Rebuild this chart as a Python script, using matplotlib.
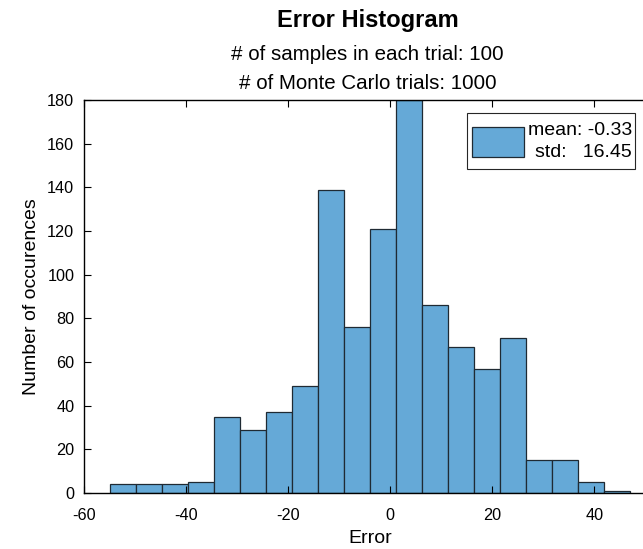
import numpy as np
import matplotlib
matplotlib.use("Agg")
import matplotlib.pyplot as plt
from matplotlib.patches import Patch, Rectangle

plt.rcParams['font.family'] = ['Liberation Sans', 'DejaVu Sans']
plt.rcParams['axes.unicode_minus'] = False

# Histogram of errors: 20 equal bins spanning the data range
counts = [4, 4, 4, 5, 35, 29, 37, 49, 139, 76, 121, 180, 86, 67, 57, 71, 15, 15, 5, 1]
data_min, data_max = -54.9, 47.0
err_mean, err_std = -0.33, 16.45
n_samples, n_trials = 100, 1000

xticks = [-60, -40, -20, 0, 20, 40]
yticks = list(range(0, 181, 20))

edges = np.linspace(data_min, data_max, len(counts) + 1)

W, H = 643, 549
fig = plt.figure(figsize=(W / 100, H / 100), dpi=100)
left, right, bottom, top = 84, 645.4, 493, 100
ax = fig.add_axes([left / W, 1 - bottom / H, (right - left) / W, (bottom - top) / H])

face = '#65a9d7'
edge = '#1f2a33'
ax.bar(edges[:-1], counts, width=np.diff(edges), align='edge',
       facecolor=face, edgecolor=edge, linewidth=0.9)

ax.set_xlim(-60, 50)
ax.set_ylim(0, 180)
ax.set_xticks(xticks)
ax.set_yticks(yticks)
ax.tick_params(direction='in', length=5, width=0.8, labelsize=11.7,
               colors='#000000', top=True, right=False)
ax.tick_params(axis='x', pad=11)
ax.tick_params(axis='y', pad=7)
for s in ax.spines.values():
    s.set_linewidth(1.0)
    s.set_color('#000000')

ax.set_xlabel('Error', fontsize=14)
ax.set_ylabel('Number of occurences', fontsize=14)
ax.xaxis.set_label_coords(0.5 + (370 - 364.7) / (right - left), -(530 - 493) / (bottom - top))
ax.yaxis.set_label_coords(-(84 - 40) / (right - left), 0.5)

# titles
cx = 367.5 / W
fig.text(cx, 1 - 20 / H, 'Error Histogram', ha='center', va='center',
         fontsize=17, fontweight='bold')
fig.text(cx, 1 - 54 / H, f'# of samples in each trial: {n_samples}', ha='center',
         va='center', fontsize=14.8)
fig.text(cx, 1 - 84 / H, f'# of Monte Carlo trials: {n_trials}', ha='center',
         va='center', fontsize=14.8)

# legend box (MATLAB-style, taller padding than wide)
frame = Rectangle((467 / W, 1 - 169 / H), (635.3 - 467) / W, (169 - 112.7) / H,
                  transform=fig.transFigure, facecolor='white', edgecolor='#262626',
                  linewidth=0.8, zorder=4)
ax.add_artist(frame)
frame.set_clip_on(False)

label = f'mean: {err_mean:.2f}\nstd:   {err_std:.2f}'
leg = ax.legend([Patch(facecolor=face, edgecolor=edge, linewidth=0.9)], [label],
                loc='center right', bbox_to_anchor=(632 / W, 1 - 141.5 / H),
                bbox_transform=fig.transFigure, fontsize=14, frameon=False,
                handlelength=2.68, handleheight=2.0, handletextpad=0.2,
                borderpad=0, borderaxespad=0)
leg.set_zorder(5)
for t in leg.get_texts():
    t.set_multialignment('right')
    t.set_linespacing(1.38)

fig.savefig('out.png', dpi=100)
